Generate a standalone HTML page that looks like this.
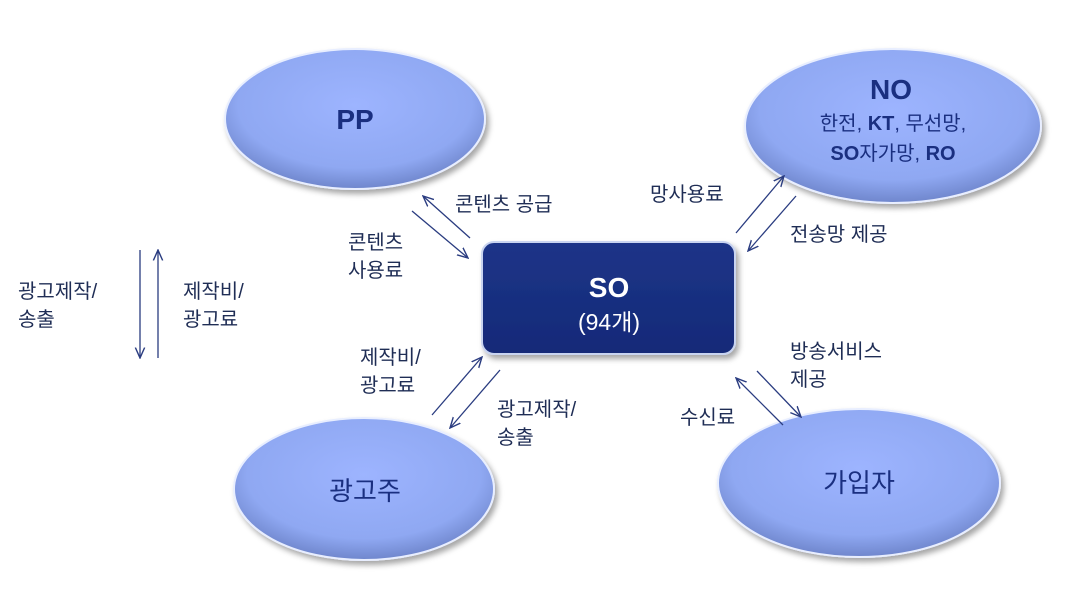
<!DOCTYPE html>
<html><head><meta charset="utf-8"><style>
body{margin:0;background:#fff;width:1070px;height:616px;overflow:hidden;font-family:"Liberation Sans","Noto Sans CJK KR",sans-serif}
.t{position:absolute;font-size:20px;color:#1f2d55;line-height:28px;white-space:nowrap}
</style></head><body>
<svg width="1070" height="616" style="position:absolute;left:0;top:0">
<defs>
<radialGradient id="g" cx="50%" cy="40%" r="60%">
<stop offset="0" stop-color="#9db4ff"/><stop offset="0.75" stop-color="#8fa8f2"/><stop offset="1" stop-color="#6f86cc"/></radialGradient>
<linearGradient id="so" x1="0" y1="0" x2="0" y2="1"><stop offset="0" stop-color="#1d3488"/><stop offset="1" stop-color="#142a78"/></linearGradient>
<filter id="sh" x="-10%" y="-10%" width="125%" height="130%"><feDropShadow dx="3" dy="4" stdDeviation="3" flood-color="#000" flood-opacity="0.35"/></filter>
<marker id="a" viewBox="0 0 10 10" refX="9" refY="5" markerWidth="9" markerHeight="9" orient="auto"><path d="M0,1 L9,5 L0,9" fill="none" stroke="#2a3c80" stroke-width="1.2"/></marker>
</defs>
<g filter="url(#sh)" stroke="#e8eeff" stroke-width="2">
<ellipse cx="355" cy="119" rx="130" ry="70" fill="url(#g)"/>
<ellipse cx="893" cy="126" rx="148" ry="77" fill="url(#g)"/>
<ellipse cx="364" cy="489" rx="130" ry="71" fill="url(#g)"/>
<ellipse cx="859" cy="483" rx="141" ry="74" fill="url(#g)"/>
<rect x="482" y="242" width="253" height="112" rx="12" fill="url(#so)" stroke="#c9d4f0"/>
</g>
<g stroke="#2a3c80" stroke-width="1.3" marker-end="url(#a)">
<line x1="470" y1="238" x2="423" y2="196"/>
<line x1="412" y1="211" x2="468" y2="258"/>
<line x1="736" y1="233" x2="784" y2="176"/>
<line x1="796" y1="196" x2="748" y2="251"/>
<line x1="432" y1="415" x2="482" y2="357"/>
<line x1="500" y1="370" x2="450" y2="428"/>
<line x1="757" y1="371" x2="801" y2="417"/>
<line x1="783" y1="425" x2="736" y2="378"/>
<line x1="140" y1="250" x2="140" y2="358"/>
<line x1="158" y1="358" x2="158" y2="250"/>
</g>
<g font-family="Liberation Sans, Noto Sans CJK KR, sans-serif" text-anchor="middle">
<text x="355" y="129" font-size="28" font-weight="bold" fill="#1a2f80">PP</text>
<text x="891" y="99" font-size="28" font-weight="bold" fill="#1a2f80">NO</text>
<text x="893" y="130" font-size="20" fill="#1a2f80">한전, <tspan font-weight="bold">KT</tspan>, 무선망,</text>
<text x="893" y="160" font-size="20" fill="#1a2f80"><tspan font-weight="bold">SO</tspan>자가망, <tspan font-weight="bold">RO</tspan></text>
<text x="365" y="500" font-size="26" fill="#1a2f80">광고주</text>
<text x="859" y="492" font-size="26" fill="#1a2f80">가입자</text>
<text x="609" y="297" font-size="28" font-weight="bold" fill="#fff">SO</text>
<text x="609" y="330" font-size="23" fill="#fff">(94개)</text>
</g>
</svg>
<div class="t" style="left:455px;top:191px">콘텐츠 공급</div>
<div class="t" style="left:348px;top:229px">콘텐츠<br>사용료</div>
<div class="t" style="left:650px;top:181px">망사용료</div>
<div class="t" style="left:790px;top:221px">전송망 제공</div>
<div class="t" style="left:790px;top:338px">방송서비스<br>제공</div>
<div class="t" style="left:680px;top:404px">수신료</div>
<div class="t" style="left:360px;top:344px">제작비/<br>광고료</div>
<div class="t" style="left:497px;top:396px">광고제작/<br>송출</div>
<div class="t" style="left:18px;top:278px">광고제작/<br>송출</div>
<div class="t" style="left:183px;top:278px">제작비/<br>광고료</div>
</body></html>
